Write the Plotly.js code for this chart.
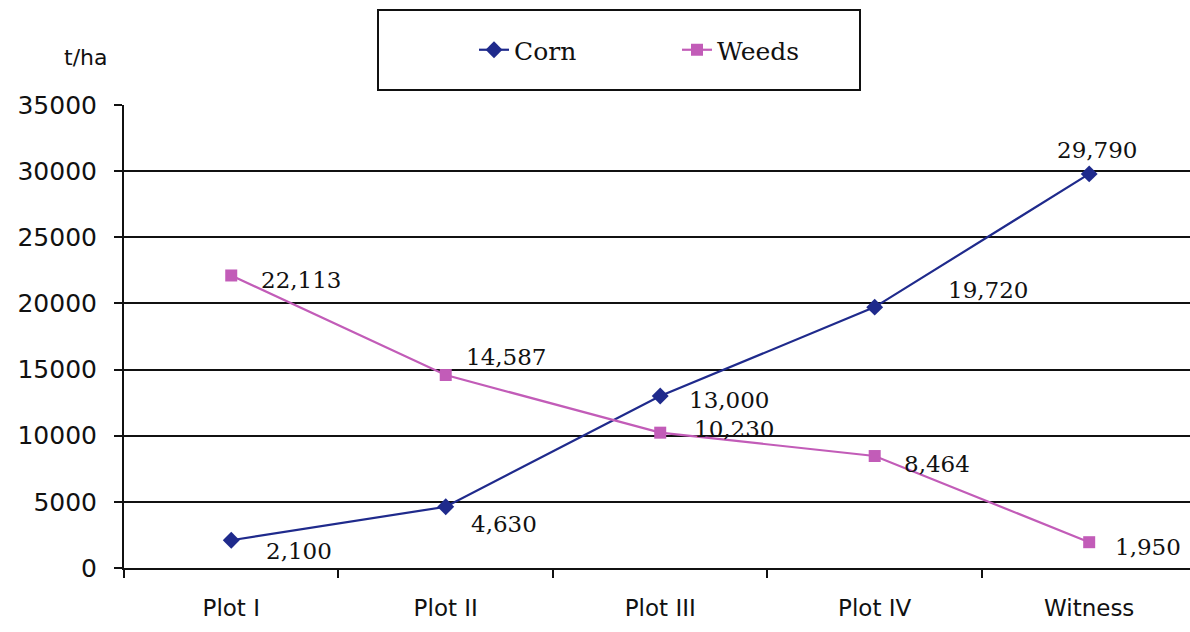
<!DOCTYPE html>
<html>
<head>
<meta charset="utf-8">
<script src="https://cdn.plot.ly/plotly-3.0.1.min.js"></script>
<style>html,body{margin:0;padding:0;background:#fff;}#chart{width:1190px;height:632px;}</style>
</head>
<body>
<div id="chart"></div>
<script>
const categories = ["Plot I", "Plot II", "Plot III", "Plot IV", "Witness"];
const corn = [2100, 4630, 13000, 19720, 29790];
const weeds = [22113, 14587, 10230, 8464, 1950];
const yTicks = [0, 5000, 10000, 15000, 20000, 25000, 30000, 35000];

// label offsets (pixels) for each data label
const cornShift = [[68, -11], [58, -17], [69, -4], [113, 17], [8, 24]];
const weedsShift = [[70, -5], [60, 18], [74, 4], [62, -8], [59, -5]];

const fmt = v => v.toLocaleString('en-US');
const labelFont = {family: "DejaVu Serif", size: 23, color: "#111"};

const annotations = [];
categories.forEach((c, i) => {
  annotations.push({x: i, y: corn[i], xref: 'x', yref: 'y', text: fmt(corn[i]), showarrow: false,
    xshift: cornShift[i][0], yshift: cornShift[i][1], font: labelFont});
  annotations.push({x: i, y: weeds[i], xref: 'x', yref: 'y', text: fmt(weeds[i]), showarrow: false,
    xshift: weedsShift[i][0], yshift: weedsShift[i][1], font: labelFont});
});
annotations.push({x: (85 - 124) / 1066, y: (568 - 57) / 463, xref: 'paper', yref: 'paper', text: 't/ha',
  showarrow: false, xanchor: 'center', yanchor: 'middle',
  font: {family: "DejaVu Sans", size: 22, color: '#111'}});

const traces = [
  {x: categories, y: corn, name: 'Corn', type: 'scatter', mode: 'lines+markers',
   line: {color: '#1f2a8c', width: 2.2}, marker: {symbol: 'diamond', size: 13, color: '#1f2a8c'}},
  {x: categories, y: weeds, name: 'Weeds', type: 'scatter', mode: 'lines+markers',
   line: {color: '#c25cb8', width: 2.2}, marker: {symbol: 'square', size: 12, color: '#c25cb8'}}
];

const layout = {
  width: 1190, height: 632,
  margin: {l: 124, r: 0, t: 105, b: 64},
  paper_bgcolor: '#fff', plot_bgcolor: '#fff',
  showlegend: true,
  legend: {orientation: 'h', x: (474 - 124) / 1066, y: (568 - 50) / 463, xanchor: 'left', yanchor: 'middle',
    font: {family: 'DejaVu Serif', size: 25, color: '#111'}, entrywidth: 158, entrywidthmode: 'pixels',
    bgcolor: 'rgba(0,0,0,0)'},
  xaxis: {type: 'category', range: [-0.5, 4.47], showline: true, linecolor: '#111', linewidth: 2,
    ticks: 'outside', tickson: 'boundaries', ticklen: 8, tickcolor: '#111', tickwidth: 2,
    ticklabelstandoff: 18,
    showgrid: false, tickfont: {family: 'DejaVu Sans', size: 23, color: '#111'}, fixedrange: true},
  yaxis: {range: [0, 35000], tickvals: yTicks, tickformat: 'd', showline: true, linecolor: '#111', linewidth: 2,
    ticks: 'outside', ticklen: 8, tickcolor: '#111', tickwidth: 2, ticklabelstandoff: 12,
    showgrid: true, gridcolor: '#111', gridwidth: 2, zeroline: false,
    tickfont: {family: 'DejaVu Sans', size: 25, color: '#111'}},
  shapes: [{type: 'rect', xref: 'paper', yref: 'paper',
    x0: (378 - 124) / 1066, x1: (860 - 124) / 1066, y0: (568 - 90) / 463, y1: (568 - 10) / 463,
    line: {color: '#111', width: 2}, fillcolor: 'rgba(0,0,0,0)'}],
  annotations: annotations
};

Plotly.newPlot('chart', traces, layout, {displayModeBar: false, staticPlot: true});
</script>
</body>
</html>
